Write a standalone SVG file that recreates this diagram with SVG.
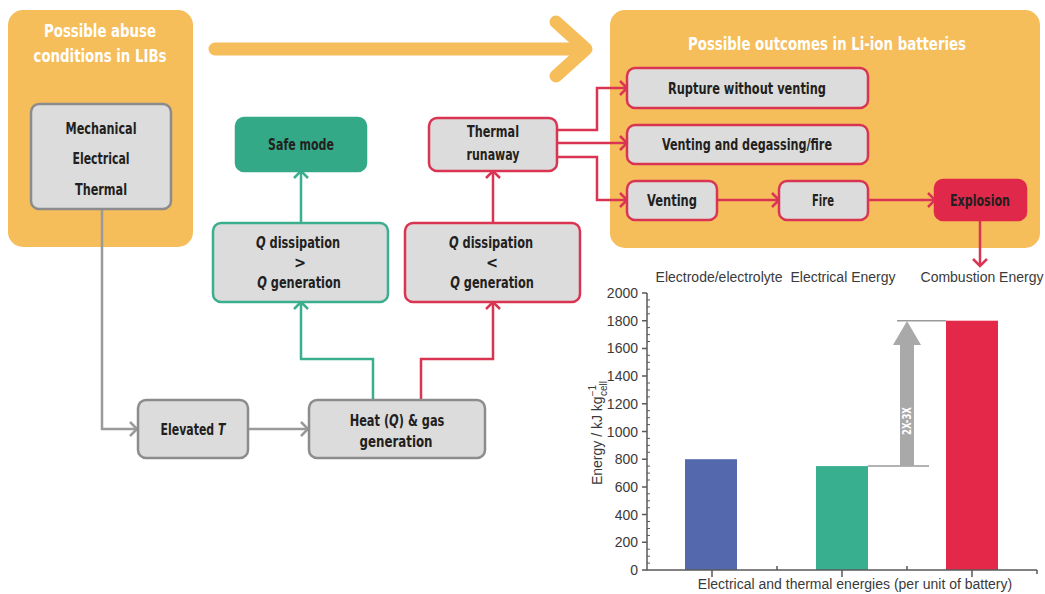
<svg xmlns="http://www.w3.org/2000/svg" width="1045" height="594" viewBox="0 0 1045 594">
<style>
.panel{fill:#F6BD5B}
.ptitle{fill:#ffffff;font-family:"Liberation Sans Narrow","DejaVu Sans Condensed","Liberation Sans",sans-serif;font-weight:bold;font-size:18px;text-anchor:middle}
.box{fill:#DCDCDC;stroke:#8C8C8C;stroke-width:2.5}
.rbox{fill:#DCDCDC;stroke:#D93552;stroke-width:2.5}
.tbox{fill:#DCDCDC;stroke:#3BAE8E;stroke-width:2.5}
.lbl{fill:#231F20;font-family:"Liberation Sans Narrow","DejaVu Sans Condensed","Liberation Sans",sans-serif;font-weight:bold;font-size:16px;text-anchor:middle}
.gc{fill:none;stroke:#9A9A9A;stroke-width:2.5}
.tc{fill:none;stroke:#3BAE8E;stroke-width:2.5}
.rc{fill:none;stroke:#D93552;stroke-width:2.5}
.ax{fill:none;stroke:#5A5A5A;stroke-width:1.5}
.ct{fill:#3A3A3A;font-family:"Liberation Sans","Open Sans",sans-serif;font-size:14px}
</style>
<defs>
<marker id="ag" markerUnits="userSpaceOnUse" markerWidth="12" markerHeight="18" refX="8" refY="8" orient="auto" overflow="visible"><path d="M1,1 L8,8 L1,15" fill="none" stroke="#9A9A9A" stroke-width="2.5"/></marker>
<marker id="at" markerUnits="userSpaceOnUse" markerWidth="12" markerHeight="18" refX="8" refY="8" orient="auto" overflow="visible"><path d="M1,1 L8,8 L1,15" fill="none" stroke="#3BAE8E" stroke-width="2.5"/></marker>
<marker id="ar" markerUnits="userSpaceOnUse" markerWidth="12" markerHeight="18" refX="8" refY="8" orient="auto" overflow="visible"><path d="M1,1 L8,8 L1,15" fill="none" stroke="#D93552" stroke-width="2.5"/></marker>
</defs>
<rect width="1045" height="594" fill="#ffffff"/>

<g id="panel-abuse">
<rect class="panel" x="8" y="10" width="185" height="237" rx="15"/>
<text class="ptitle" x="100" y="37" textLength="112" lengthAdjust="spacingAndGlyphs">Possible abuse</text>
<text class="ptitle" x="100" y="62" textLength="133" lengthAdjust="spacingAndGlyphs">conditions in LIBs</text>
</g>
<g id="panel-outcomes">
<rect class="panel" x="610" y="10" width="430" height="238" rx="15"/>
<text class="ptitle" x="827" y="50" textLength="278" lengthAdjust="spacingAndGlyphs">Possible outcomes in Li-ion batteries</text>
</g>
<g id="big-arrow" fill="none" stroke="#F6BD5B" stroke-width="13" stroke-linecap="round" stroke-linejoin="round">
<line x1="215" y1="49" x2="584" y2="49"/>
<polyline points="556,22 586,49 556,76"/>
</g>

<g id="connectors">
<polyline class="gc" points="102,209 102,429 137,429" marker-end="url(#ag)"/>
<line class="gc" x1="248" y1="429" x2="308" y2="429" marker-end="url(#ag)"/>
<polyline class="tc" points="373,400 373,359 301,359 301,302" marker-end="url(#at)"/>
<polyline class="rc" points="421,400 421,359 493,359 493,302" marker-end="url(#ar)"/>
<line class="tc" x1="301" y1="223" x2="301" y2="171" marker-end="url(#at)"/>
<line class="rc" x1="493" y1="223" x2="493" y2="171" marker-end="url(#ar)"/>
<polyline class="rc" points="557,130 597,130 597,88 627,88" marker-end="url(#ar)"/>
<line class="rc" x1="557" y1="143" x2="627" y2="143" marker-end="url(#ar)"/>
<polyline class="rc" points="557,157 597,157 597,200 627,200" marker-end="url(#ar)"/>
<line class="rc" x1="717" y1="200" x2="779" y2="200" marker-end="url(#ar)"/>
<line class="rc" x1="868" y1="200" x2="935" y2="200" marker-end="url(#ar)"/>
<line class="rc" x1="980" y1="220" x2="980" y2="266" marker-end="url(#ar)"/>
</g>

<g id="node-conditions">
<rect class="box" x="31" y="104" width="140" height="105" rx="8"/>
<text class="lbl" x="101" y="134" textLength="71" lengthAdjust="spacingAndGlyphs">Mechanical</text>
<text class="lbl" x="101" y="164" textLength="57" lengthAdjust="spacingAndGlyphs">Electrical</text>
<text class="lbl" x="101" y="195" textLength="52" lengthAdjust="spacingAndGlyphs">Thermal</text>
</g>
<g id="node-safe">
<rect x="236" y="118" width="130" height="53" rx="8" fill="#34A987" stroke="#34A987" stroke-width="2.5"/>
<text class="lbl" x="301" y="150" textLength="66" lengthAdjust="spacingAndGlyphs">Safe mode</text>
</g>
<g id="node-runaway">
<rect class="rbox" x="429" y="118" width="128" height="53" rx="8"/>
<text class="lbl" x="493" y="137" textLength="52" lengthAdjust="spacingAndGlyphs">Thermal</text>
<text class="lbl" x="493" y="160" textLength="53" lengthAdjust="spacingAndGlyphs">runaway</text>
</g>
<g id="node-qgt">
<rect class="tbox" x="213" y="223" width="175" height="79" rx="8"/>
<text class="lbl" transform="translate(298 248) scale(0.79 1)" x="0" y="0"><tspan font-style="italic">Q</tspan> dissipation</text>
<text class="lbl" x="300" y="268">&gt;</text>
<text class="lbl" transform="translate(299 288) scale(0.79 1)" x="0" y="0"><tspan font-style="italic">Q</tspan> generation</text>
</g>
<g id="node-qlt">
<rect class="rbox" x="405" y="223" width="175" height="79" rx="8"/>
<text class="lbl" transform="translate(491 248) scale(0.79 1)" x="0" y="0"><tspan font-style="italic">Q</tspan> dissipation</text>
<text class="lbl" x="492" y="268">&lt;</text>
<text class="lbl" transform="translate(492 288) scale(0.79 1)" x="0" y="0"><tspan font-style="italic">Q</tspan> generation</text>
</g>
<g id="node-elevated">
<rect class="box" x="138" y="400" width="110" height="58" rx="8"/>
<text class="lbl" transform="translate(193 435) scale(0.76 1)" x="0" y="0">Elevated <tspan font-style="italic">T</tspan></text>
</g>
<g id="node-heat">
<rect class="box" x="309" y="400" width="176" height="58" rx="8"/>
<text class="lbl" transform="translate(397 426) scale(0.79 1)" x="0" y="0">Heat (<tspan font-style="italic">Q</tspan>) &amp; gas</text>
<text class="lbl" x="396" y="447" textLength="73" lengthAdjust="spacingAndGlyphs">generation</text>
</g>
<g id="node-rupture">
<rect class="rbox" x="627" y="68" width="241" height="40" rx="8"/>
<text class="lbl" x="747" y="94" textLength="158" lengthAdjust="spacingAndGlyphs">Rupture without venting</text>
</g>
<g id="node-degassing">
<rect class="rbox" x="627" y="125" width="241" height="39" rx="8"/>
<text class="lbl" x="747" y="150" textLength="170" lengthAdjust="spacingAndGlyphs">Venting and degassing/fire</text>
</g>
<g id="node-venting">
<rect class="rbox" x="627" y="181" width="90" height="39" rx="8"/>
<text class="lbl" x="672" y="206" textLength="50" lengthAdjust="spacingAndGlyphs">Venting</text>
</g>
<g id="node-fire">
<rect class="rbox" x="779" y="181" width="89" height="39" rx="8"/>
<text class="lbl" x="823" y="206" textLength="22" lengthAdjust="spacingAndGlyphs">Fire</text>
</g>
<g id="node-explosion">
<rect x="935" y="180" width="91" height="40" rx="8" fill="#E0284A" stroke="#E0284A" stroke-width="2.5"/>
<text class="lbl" x="980" y="206" textLength="60" lengthAdjust="spacingAndGlyphs">Explosion</text>
</g>

<g id="chart">
<text class="ct" x="719" y="282" text-anchor="middle">Electrode/electrolyte</text>
<text class="ct" x="843" y="282" text-anchor="middle">Electrical Energy</text>
<text class="ct" x="982" y="282" text-anchor="middle">Combustion Energy</text>
<rect x="685" y="459.2" width="52" height="110.8" fill="#5468AE"/>
<rect x="816" y="466.1" width="52" height="103.9" fill="#38B090"/>
<rect x="946" y="320.7" width="52" height="249.3" fill="#E3284A"/>
<line x1="897" y1="320.7" x2="946" y2="320.7" stroke="#9A9A9A" stroke-width="1.5"/>
<line x1="868" y1="466.1" x2="929" y2="466.1" stroke="#9A9A9A" stroke-width="1.5"/>
<polygon points="900,466 914,466 914,345 921,345 907,321 893,345 900,345" fill="#A9A9A9"/>
<text x="907" y="421" transform="rotate(-90 907 421)" text-anchor="middle" dominant-baseline="central" fill="#ffffff" font-family="Liberation Sans Narrow,DejaVu Sans Condensed,Liberation Sans,sans-serif" font-weight="bold" font-size="12" textLength="28" lengthAdjust="spacingAndGlyphs">2X-3X</text>
<path class="ax" d="M647,293 V570 H1037"/>
<path class="ax" d="M642,570H647M642,542.3H647M642,514.6H647M642,486.9H647M642,459.2H647M642,431.5H647M642,403.8H647M642,376.1H647M642,348.4H647M642,320.7H647M642,293H647"/>
<path fill="none" stroke="#5A5A5A" stroke-width="1" d="M647,563.1h3M647,556.2h3M647,549.2h3M647,535.4h3M647,528.5h3M647,521.5h3M647,507.7h3M647,500.8h3M647,493.8h3M647,480h3M647,473.1h3M647,466.1h3M647,452.3h3M647,445.4h3M647,438.4h3M647,424.6h3M647,417.7h3M647,410.7h3M647,396.9h3M647,390h3M647,383h3M647,369.2h3M647,362.3h3M647,355.3h3M647,341.5h3M647,334.6h3M647,327.6h3M647,313.8h3M647,306.9h3M647,299.9h3"/>
<path class="ax" d="M712,570v7M842,570v7M972,570v7M777,570v-4M907,570v-4M1037,570v4"/>
<g class="ct" text-anchor="end">
<text x="638" y="575">0</text>
<text x="638" y="547.3">200</text>
<text x="638" y="519.6">400</text>
<text x="638" y="491.9">600</text>
<text x="638" y="464.2">800</text>
<text x="638" y="436.5">1000</text>
<text x="638" y="408.8">1200</text>
<text x="638" y="381.1">1400</text>
<text x="638" y="353.4">1600</text>
<text x="638" y="325.7">1800</text>
<text x="638" y="298">2000</text>
</g>
<text class="ct" x="602" y="433" transform="rotate(-90 602 433)" text-anchor="middle">Energy / kJ kg<tspan font-size="10" dy="-6">−1</tspan><tspan font-size="10" dx="-11" dy="11">cell</tspan></text>
<text class="ct" x="855" y="589" text-anchor="middle">Electrical and thermal energies (per unit of battery)</text>
</g>
</svg>
